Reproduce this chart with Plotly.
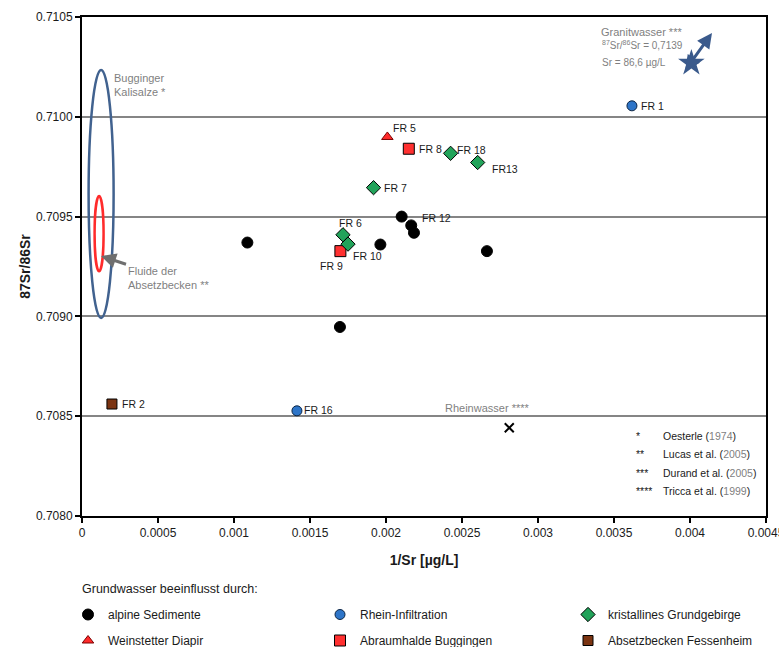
import plotly.graph_objects as go

# ---- data: 1/Sr [µg/L] and 87Sr/86Sr per groundwater group ----
alpine_x = [0.001088, 0.001697, 0.001963, 0.002103, 0.002166, 0.002184, 0.002664]
alpine_y = [0.70937, 0.708947, 0.70936, 0.70950, 0.709456, 0.709419, 0.709327]
alpine_lbl = ["", "", "", "FR 12", "", "", ""]

rhein_x = [0.003618, 0.001414]
rhein_y = [0.710055, 0.708527]
rhein_lbl = ["FR 1", "FR 16"]

krist_x = [0.001717, 0.001750, 0.001918, 0.002425, 0.002603]
krist_y = [0.709409, 0.709362, 0.709645, 0.709817, 0.709771]
krist_lbl = ["FR 6", "FR 10", "FR 7", "FR 18", "FR13"]

diapir_x = [0.002009]
diapir_y = [0.709899]
diapir_lbl = ["FR 5"]

halde_x = [0.002150, 0.001700]
halde_y = [0.709840, 0.709327]
halde_lbl = ["FR 8", "FR 9"]

becken_x = [0.000197]
becken_y = [0.708561]
becken_lbl = ["FR 2"]

rheinwasser_x = [0.002811]
rheinwasser_y = [0.708442]

granit_x = [0.004009]
granit_y = [0.710269]

# reference ranges (ellipses)
kalisalze_x = [0.0000434, 0.000208]
kalisalze_y = [0.708992, 0.710234]
fluide_x = [0.0000829, 0.000142]
fluide_y = [0.709226, 0.709603]

x_ticks = [0, 0.0005, 0.001, 0.0015, 0.002, 0.0025, 0.003, 0.0035, 0.004, 0.0045]
x_ticktext = ["0", "0.0005", "0.001", "0.0015", "0.002", "0.0025", "0.003", "0.0035", "0.004", "0.0045"]
y_ticks = [0.7080, 0.7085, 0.7090, 0.7095, 0.7100, 0.7105]
y_ticktext = ["0.7080", "0.7085", "0.7090", "0.7095", "0.7100", "0.7105"]

FONT = "Liberation Sans, Arial, sans-serif"
GREY = "#7f7f7f"
INK = "#1a1a1a"

fig = go.Figure()

def add_group(name, xs, ys, symbol, color, size, legend, line_color="#000000"):
    fig.add_trace(go.Scatter(
        x=xs, y=ys, mode="markers", name=name, legend=legend, legendgroup=name,
        marker=dict(symbol=symbol, color=color, size=size,
                    line=dict(color=line_color, width=1)),
        hoverinfo="x+y+name",
    ))

add_group("alpine Sedimente", alpine_x, alpine_y, "circle", "#000000", 11, "legend")
add_group("Weinstetter Diapir", diapir_x, diapir_y, "triangle-up", "#ff2a2a", 10, "legend", "#7a0000")
add_group("Rhein-Infiltration", rhein_x, rhein_y, "circle", "#2e75c8", 10, "legend2", "#0b2545")
add_group("Abraumhalde Buggingen", halde_x, halde_y, "square", "#ff3030", 11, "legend2")
add_group("kristallines Grundgebirge", krist_x, krist_y, "diamond", "#22a35a", 11, "legend3")
add_group("Absetzbecken Fessenheim", becken_x, becken_y, "square", "#7b3412", 10, "legend3")

fig.add_trace(go.Scatter(
    x=rheinwasser_x, y=rheinwasser_y, mode="markers", showlegend=False,
    marker=dict(symbol="x-thin-open", size=9, color="#000000",
                line=dict(color="#000000", width=2)),
    name="Rheinwasser"))
fig.add_trace(go.Scatter(
    x=granit_x, y=granit_y, mode="markers", showlegend=False,
    marker=dict(symbol="star", size=20, color="#3a5a8c", line=dict(width=0)),
    name="Granitwasser"))

# point labels: (xanchor, xshift, yshift) per label
label_pos = {
    "FR 1": ("left", 7, 0), "FR 16": ("left", 5, 1), "FR 6": ("center", 8, 12),
    "FR 10": ("left", 3, -12), "FR 7": ("left", 8, 0), "FR 18": ("left", 4, 3),
    "FR13": ("left", 12, -6), "FR 5": ("left", 4, 9), "FR 8": ("left", 8, 0),
    "FR 9": ("center", -9, -15), "FR 2": ("left", 8, 0), "FR 12": ("left", 18, -1),
}
annotations = []
for xs, ys, lbls in [(alpine_x, alpine_y, alpine_lbl), (rhein_x, rhein_y, rhein_lbl),
                     (krist_x, krist_y, krist_lbl), (diapir_x, diapir_y, diapir_lbl),
                     (halde_x, halde_y, halde_lbl), (becken_x, becken_y, becken_lbl)]:
    for x, y, t in zip(xs, ys, lbls):
        if not t:
            continue
        xa, dx, dy = label_pos[t]
        annotations.append(dict(x=x, y=y, xref="x", yref="y", text=t, showarrow=False,
                                xanchor=xa, yanchor="middle", xshift=dx, yshift=dy,
                                font=dict(family=FONT, size=10.5, color=INK)))

# ellipses for literature ranges
shapes = [
    dict(type="circle", xref="x", yref="y", x0=kalisalze_x[0], x1=kalisalze_x[1],
         y0=kalisalze_y[0], y1=kalisalze_y[1], line=dict(color="#41628f", width=2.5)),
    dict(type="circle", xref="x", yref="y", x0=fluide_x[0], x1=fluide_x[1],
         y0=fluide_y[0], y1=fluide_y[1], line=dict(color="#ff2b2b", width=2.5)),
]

def px_x(p):
    return (p - 82) / 684.0

def px_y(p):
    return (516 - p) / 499.0

annotations += [
    dict(xref="paper", yref="paper", x=px_x(112), y=px_y(70), xanchor="left", yanchor="top",
         align="left", showarrow=False, text="Bugginger<br>Kalisalze *",
         font=dict(family=FONT, size=11, color=GREY)),
    # label with a grey arrow pointing at the red ellipse
    dict(xref="paper", yref="paper", x=px_x(101), y=px_y(256), ax=67, ay=22,
         align="left", text="Fluide der<br>Absetzbecken **", showarrow=True,
         arrowhead=2, arrowsize=1, arrowwidth=3, arrowcolor="#6f6f6f",
         font=dict(family=FONT, size=11, color=GREY)),
    dict(xref="paper", yref="paper", x=px_x(641), y=px_y(24), xanchor="center", yanchor="top",
         showarrow=False, text="Granitwasser ***",
         font=dict(family=FONT, size=11, color=GREY)),
    dict(xref="paper", yref="paper", x=px_x(600), y=px_y(37), xanchor="left", yanchor="top",
         showarrow=False, text="<sup>87</sup>Sr/<sup>86</sup>Sr = 0,7139",
         font=dict(family=FONT, size=10, color=GREY)),
    dict(xref="paper", yref="paper", x=px_x(600), y=px_y(55), xanchor="left", yanchor="top",
         showarrow=False, text="Sr = 86,6 µg/L",
         font=dict(family=FONT, size=10, color=GREY)),
    # double-headed arrow next to the granite-water star
    dict(xref="paper", yref="paper", x=px_x(712), y=px_y(33), ax=-28, ay=39,
         text="", showarrow=True, arrowhead=2,
         startarrowhead=2, arrowside="end+start", arrowsize=1, startarrowsize=1,
         arrowwidth=3, arrowcolor="#3a5a8c"),
    dict(xref="paper", yref="paper", x=px_x(443), y=px_y(408), xanchor="left", yanchor="middle",
         showarrow=False, text="Rheinwasser ****",
         font=dict(family=FONT, size=11, color=GREY)),
    dict(xref="paper", yref="paper", x=px_x(80), y=px_y(589), xanchor="left", yanchor="middle",
         showarrow=False, text="Grundwasser beeinflusst durch:",
         font=dict(family=FONT, size=12.5, color=INK)),
]

# literature references
refs = [("*", "Oesterle", "1974"), ("**", "Lucas et al.", "2005"),
        ("***", "Durand et al.", "2005"), ("****", "Tricca et al.", "1999")]
ref_rows = [436, 454, 473, 491]
for (stars, author, year), row in zip(refs, ref_rows):
    annotations.append(dict(xref="paper", yref="paper", x=px_x(634), y=px_y(row),
                            xanchor="left", yanchor="middle", showarrow=False, text=stars,
                            font=dict(family=FONT, size=10.5, color=INK)))
    annotations.append(dict(xref="paper", yref="paper", x=px_x(661), y=px_y(row),
                            xanchor="left", yanchor="middle", showarrow=False,
                            text=f"{author} (<span style='color:{GREY}'>{year}</span>)",
                            font=dict(family=FONT, size=10.5, color=INK)))

legend_common = dict(orientation="v", yanchor="top", xanchor="left", bgcolor="rgba(0,0,0,0)",
                     font=dict(family=FONT, size=12, color=INK), tracegroupgap=7,
                     itemclick=False, itemdoubleclick=False)
legend_top = px_y(600)

fig.update_layout(
    width=779, height=647,
    margin=dict(l=82, r=13, t=17, b=131, autoexpand=False),
    paper_bgcolor="white", plot_bgcolor="white",
    font=dict(family=FONT, size=12, color=INK),
    shapes=shapes, annotations=annotations,
    showlegend=True,
    legend=dict(x=px_x(68), y=legend_top, **legend_common),
    legend2=dict(x=px_x(320), y=legend_top, **legend_common),
    legend3=dict(x=px_x(568), y=legend_top, **legend_common),
    xaxis=dict(range=[0, 0.0045000001], tickvals=x_ticks, ticktext=x_ticktext,
               ticklabeloverflow="allow",
               showgrid=False, zeroline=False, showline=True, linecolor="#000000",
               linewidth=2, mirror=True, ticks="outside", ticklen=5, tickwidth=2,
               tickcolor="#000000", tickfont=dict(family=FONT, size=12, color=INK),
               title=dict(text="<b>1/Sr [µg/L]</b>", standoff=16,
                          font=dict(family=FONT, size=14, color=INK))),
    yaxis=dict(range=[0.7080, 0.7105], tickvals=y_ticks, ticktext=y_ticktext,
               showgrid=True, gridcolor="#858585", gridwidth=2, zeroline=False,
               showline=True, linecolor="#000000", linewidth=2, mirror=True,
               ticks="outside", ticklen=5, tickwidth=2, tickcolor="#000000",
               tickfont=dict(family=FONT, size=12, color=INK),
               title=dict(text="<b>87Sr/86Sr</b>", standoff=2,
                          font=dict(family=FONT, size=14, color=INK))),
)

fig.write_html("out.html")
